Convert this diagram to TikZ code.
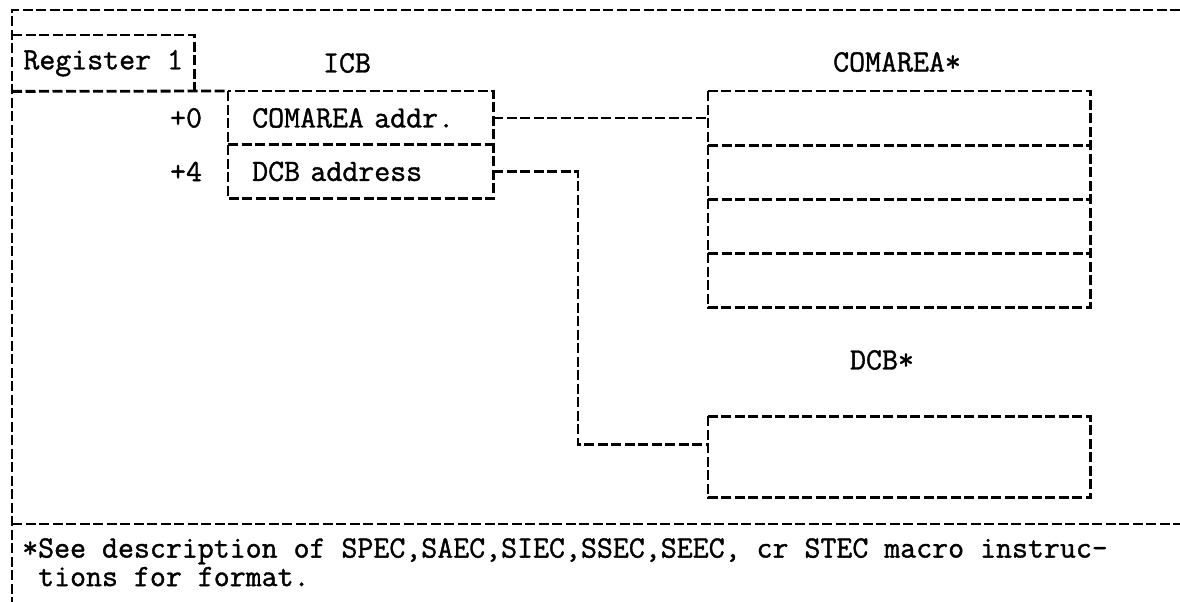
\documentclass[tikz,border=0pt]{standalone}
\usepackage{fontspec}
\setmonofont{Latin Modern Mono}[FakeBold=1.2]
\usepackage{tikz}
\usetikzlibrary{matrix,positioning,calc}

\begin{document}
\begin{tikzpicture}[
  x=1pt, y=-1pt,
  frame/.style={line width=2.8pt, dash pattern=on 10pt off 3.5pt},
  lbl/.style={inner sep=0pt, font=\ttfamily\fontsize{31}{28.5}\selectfont},
  array/.style={
    matrix of nodes,
    inner sep=0pt,
    nodes={lbl, minimum width=#1, minimum height=54pt, outer sep=0pt},
    row sep=0pt,
    nodes in empty cells
  }]
\useasboundingbox (0,0) rectangle (1180,602);

% frame round the figure
\draw[frame] (1180,10) -- (12,10) -- (12,602);
\draw[frame] (12,524) -- (1180,524);

% register and control block
\node[lbl, minimum width=182pt, minimum height=56pt, anchor=north west] (reg) at (12,35) {Register 1};
\matrix[array=265pt, anchor=north west,
  nodes={text width=217pt, inner xsep=24pt, align=left, minimum height=53.5pt}]
  (icb) at (228,91) { COMAREA addr. \\ DCB address \\ };
\node[lbl] (icblabel) at (347,63) {ICB};
\node[lbl, left=26pt of icb-1-1] (off0) {+0};
\node[lbl, left=26pt of icb-2-1] (off4) {+4};

\draw[frame] (reg.north west) -- (reg.north east) -- (reg.south east);
\draw[frame] (reg.south west) -- (icb.north west);
\draw[frame] (icb.north west) rectangle (icb.south east);
\draw[frame] (icb-1-1.south west) -- (icb-1-1.south east);

% communication area
\matrix[array=382pt, anchor=north west] (com) at (708,91) { \\ \\ \\ \\ };
\node[lbl] (comlabel) at (897,62) {COMAREA*};
\draw[frame] (com.north west) rectangle (com.south east);
\foreach \r in {1,2,3}
  \draw[frame] (com-\r-1.south west) -- (com-\r-1.south east);

% data control block
\node[lbl, minimum width=382pt, minimum height=81pt, below=109pt of com] (dcb) {};
\draw[frame] (dcb.north west) rectangle (dcb.south east);
\node[lbl] (dcblabel) at (882,360) {DCB*};

% pointers
\draw[frame] (icb-1-1.east) -- (icb-1-1.east -| com.west);
\coordinate (dcbin) at ($(dcb.north west)!0.35!(dcb.south west)$);
\draw[frame] (icb-2-1.east) -| ([xshift=-130pt]dcbin) -- (dcbin);

% footnote
\node[lbl, anchor=north west, align=left] (note) at (22,538)
  {*See description of SPEC,SAEC,SIEC,SSEC,SEEC, cr STEC macro instruc-\\
   \phantom{*}tions for format.};

\end{tikzpicture}
\end{document}
